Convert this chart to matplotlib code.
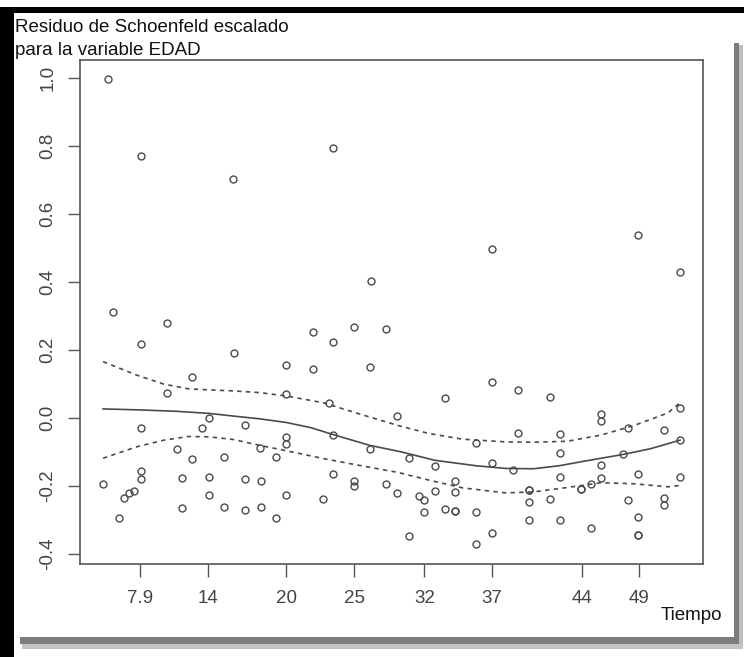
import matplotlib
matplotlib.use("Agg")
import matplotlib.pyplot as plt
from matplotlib.patches import Rectangle

plt.rcParams['font.family'] = ['Liberation Sans', 'DejaVu Sans']

# scaled Schoenfeld residuals for EDAD, x on the transformed (km) time scale
tiempo = [0.009, 0.065, 0.226, 0.398, 0.464, 0.018, 0.110, 0.674, 0.928, 1.000,
          0.491, 0.065, 0.110, 0.065, 0.128, 0.065, 0.065, 0.000, 0.054, 0.045,
          0.036, 0.136, 0.027, 0.136, 0.154, 0.227, 0.317, 0.317, 0.183, 0.172,
          0.246, 0.317, 0.317, 0.272, 0.300, 0.154, 0.209, 0.183, 0.246, 0.273,
          0.183, 0.317, 0.209, 0.246, 0.273, 0.300, 0.364, 0.435, 0.399, 0.364,
          0.462, 0.391, 0.510, 0.399, 0.462, 0.399, 0.435, 0.435, 0.491, 0.510,
          0.381, 0.674, 0.592, 0.647, 0.530, 0.575, 0.674, 0.610, 0.610, 0.575,
          0.547, 0.556, 0.556, 0.592, 0.610, 0.610, 0.647, 0.530, 0.674, 0.647,
          0.719, 0.774, 0.864, 0.864, 0.720, 0.792, 0.792, 0.711, 0.792, 0.863,
          0.863, 0.846, 0.738, 0.738, 0.828, 0.828, 0.738, 0.774, 0.738, 0.792,
          0.846, 0.910, 0.973, 1.000, 1.000, 0.901, 0.928, 1.000, 0.910, 0.973,
          0.973, 0.928, 0.928, 0.928]
residuo = [0.997, 0.771, 0.703, 0.794, 0.403, 0.313, 0.281, 0.497, 0.537, 0.429,
           0.263, 0.218, 0.074, -0.029, -0.091, -0.156, -0.179, -0.195, -0.214, -0.221,
           -0.235, -0.176, -0.293, -0.264, 0.120, 0.190, 0.156, 0.070, 0.001, -0.029,
           -0.019, -0.057, -0.076, -0.087, -0.115, -0.119, -0.114, -0.173, -0.180, -0.184,
           -0.225, -0.225, -0.261, -0.269, -0.261, -0.293, 0.254, 0.267, 0.224, 0.143,
           0.151, 0.043, 0.006, -0.049, -0.092, -0.165, -0.185, -0.201, -0.194, -0.221,
           -0.238, 0.105, 0.060, -0.072, -0.117, -0.141, -0.133, -0.186, -0.218, -0.213,
           -0.229, -0.241, -0.276, -0.268, -0.274, -0.274, -0.276, -0.346, -0.337, -0.369,
           0.082, 0.063, 0.012, -0.009, -0.045, -0.048, -0.104, -0.153, -0.173, -0.138,
           -0.176, -0.195, -0.210, -0.210, -0.209, -0.209, -0.246, -0.237, -0.300, -0.300,
           -0.323, -0.029, -0.035, 0.031, -0.064, -0.107, -0.165, -0.172, -0.241, -0.234,
           -0.255, -0.292, -0.344, -0.344]

# smooth fit and confidence band
curva_x = [0.000, 0.065, 0.127, 0.183, 0.226, 0.271, 0.318, 0.360, 0.398, 0.462,
           0.516, 0.575, 0.646, 0.698, 0.746, 0.791, 0.833, 0.901, 0.949, 1.000]
ajuste = [0.027, 0.024, 0.020, 0.014, 0.006, -0.002, -0.013, -0.028, -0.048, -0.080,
          -0.099, -0.124, -0.140, -0.148, -0.149, -0.140, -0.127, -0.107, -0.090, -0.065]

banda_x = [0.000, 0.059, 0.105, 0.148, 0.183, 0.226, 0.271, 0.318, 0.382, 0.441,
           0.512, 0.564, 0.623, 0.698, 0.746, 0.805, 0.863, 0.920, 0.979, 1.000]
banda_sup = [0.166, 0.126, 0.100, 0.086, 0.083, 0.080, 0.075, 0.065, 0.045, 0.014,
             -0.022, -0.045, -0.062, -0.070, -0.071, -0.068, -0.050, -0.022, 0.015, 0.045]
banda_inf = [-0.118, -0.084, -0.065, -0.054, -0.055, -0.063, -0.080, -0.096, -0.119, -0.138,
             -0.160, -0.182, -0.205, -0.220, -0.217, -0.204, -0.190, -0.193, -0.202, -0.198]

xtick_pos = [0.0647, 0.1826, 0.3179, 0.4358, 0.5572, 0.6734, 0.8295, 0.9284]
xtick_lab = ["7.9", "14", "20", "25", "32", "37", "44", "49"]
ytick_pos = [-0.4, -0.2, 0.0, 0.2, 0.4, 0.6, 0.8, 1.0]

W, H = 744, 657
fig = plt.figure(figsize=(W / 100, H / 100), dpi=100)
ax = fig.add_axes([80 / W, 1 - 564 / H, 623 / W, 504 / H])

gris = '#4a4a4a'
ax.plot(tiempo, residuo, 'o', mfc='none', mec=gris, ms=5.0, mew=1.0)
ax.plot(curva_x, ajuste, '-', color=gris, lw=1.2)
ax.plot(banda_x, banda_sup, color=gris, lw=1.2, linestyle=(0, (2.6, 2.6)))
ax.plot(banda_x, banda_inf, color=gris, lw=1.2, linestyle=(0, (2.6, 2.6)))

ax.set_xlim(-0.04, 1.04)
ax.set_ylim(-0.429, 1.053)
ax.set_xticks(xtick_pos)
ax.set_xticklabels(xtick_lab)
ax.set_yticks(ytick_pos)
ax.set_yticklabels([f"{v:.1f}" for v in ytick_pos])
for lab in ax.get_yticklabels():
    lab.set_rotation(90)
    lab.set_va('center')

ax.tick_params(direction='out', length=9, width=1.0, color='#555555',
               labelcolor='#444444', labelsize=13.5)
ax.tick_params(axis='x', pad=10)
ax.tick_params(axis='y', pad=8)
for s in ax.spines.values():
    s.set_color('#555555')
    s.set_linewidth(1.2)

fig.text(15 / W, 1 - 31.5 / H, "Residuo de Schoenfeld escalado", fontsize=13.5,
         va='baseline', ha='left', color='#111111')
fig.text(15 / W, 1 - 55 / H, "para la variable EDAD", fontsize=13.5,
         va='baseline', ha='left', color='#111111')
fig.text(661 / W, 1 - 620 / H, "Tiempo", fontsize=13.5, va='baseline', ha='left',
         color='#111111')


# screenshot frame: black edge at top/left, drop shadow at right/bottom
def marco(x0, y0, x1, y1, color):
    fig.add_artist(Rectangle((x0 / W, 1 - y1 / H), (x1 - x0) / W, (y1 - y0) / H,
                             transform=fig.transFigure, color=color, lw=0))


marco(0, 7, W, 13, 'black')
marco(0, 7, 14, H, 'black')
marco(734, 43, 739, 646, '#7c7c7c')
marco(739, 45, 743, 648, '#bdbdbd')
marco(20, 637, 739, 644, '#7c7c7c')
marco(22, 644, 743, 649, '#c4c4c4')

fig.savefig("out.png", dpi=100)
